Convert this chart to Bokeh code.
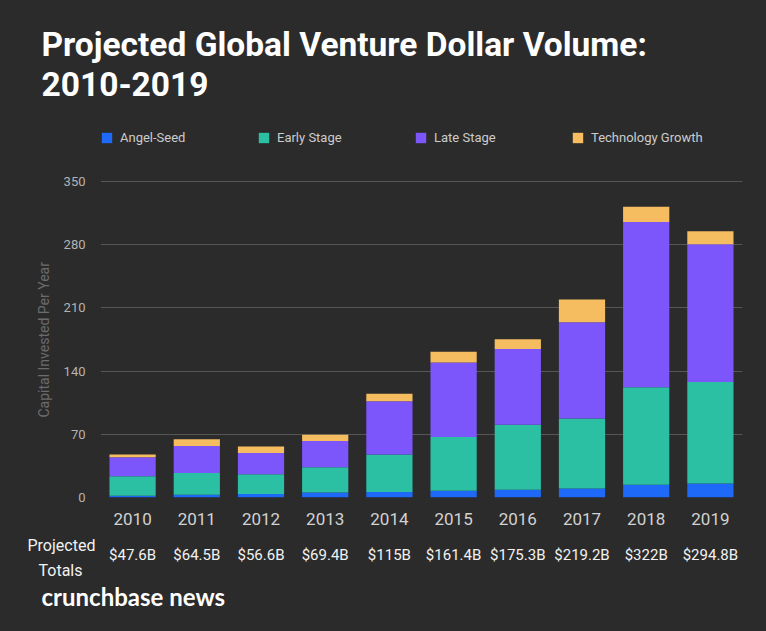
from bokeh.plotting import figure
from bokeh.models import (FixedTicker, Legend, LegendItem, Title, CategoricalAxis,
                          FactorRange, Range1d, ColumnDataSource, GlobalInlineStyleSheet)
from bokeh.embed import file_html
from bokeh.resources import INLINE

# ---- data ----
years = ["2010", "2011", "2012", "2013", "2014", "2015", "2016", "2017", "2018", "2019"]
angel_seed = [2.0, 3.0, 4.0, 5.5, 6.0, 7.5, 8.5, 10.0, 14.0, 15.5]
early_stage = [21.5, 24.0, 21.7, 28.0, 41.5, 59.5, 72.0, 77.5, 108.0, 112.5]
late_stage = [21.0, 30.0, 23.7, 29.2, 59.0, 82.5, 84.0, 106.5, 183.0, 152.5]
tech_growth = [3.1, 7.5, 7.2, 6.7, 8.5, 11.9, 10.8, 25.2, 17.0, 14.3]
totals_labels = ["$47.6B", "$64.5B", "$56.6B", "$69.4B", "$115B",
                 "$161.4B", "$175.3B", "$219.2B", "$322B", "$294.8B"]
series_names = ["Angel-Seed", "Early Stage", "Late Stage", "Technology Growth"]
y_ticks = [0, 70, 140, 210, 280, 350]

colors = ["#1e69f8", "#2bbfa4", "#7d56fb", "#f6bd60"]
BG = "#2b2b2b"
FONT = "Roboto"

src = ColumnDataSource(dict(year=years, angel=angel_seed, early=early_stage,
                            late=late_stage, tech=tech_growth))

# frame spans from just under the title down to the zero line; headroom above 350 holds the legend
p = figure(x_range=FactorRange(*years), y_range=Range1d(0, 433), title=None,
           width=766, height=631, output_backend="svg", toolbar_location=None,
           min_border_left=100, min_border_right=24, min_border_top=106, min_border_bottom=134,
           background_fill_color=BG, border_fill_color=BG, outline_line_color=None)
p.stylesheets = [GlobalInlineStyleSheet(css="body{margin:0;background-color:#2b2b2b;}")]
p.extra_x_ranges = {"tot": FactorRange(*totals_labels)}

rs = p.vbar_stack(["angel", "early", "late", "tech"], x="year", width=0.72,
                  color=colors, line_color=None, source=src)

# grid
p.xgrid.grid_line_color = None
p.ygrid.ticker = FixedTicker(ticks=y_ticks)
p.ygrid.grid_line_color = "#565656"
p.ygrid.grid_line_width = 1

# y axis
p.yaxis.ticker = FixedTicker(ticks=y_ticks)
p.yaxis.axis_line_color = None
p.yaxis.major_tick_line_color = None
p.yaxis.minor_tick_line_color = None
p.yaxis.major_tick_out = 0
p.yaxis.minor_tick_out = 0
p.yaxis.major_label_text_color = "#b3b3b3"
p.yaxis.major_label_text_font = FONT
p.yaxis.major_label_text_font_size = "13px"
p.yaxis.major_label_standoff = 15

# y axis title (left panel, outside the tick labels)
p.add_layout(Title(text="Capital Invested Per Year", align="left", offset=80, standoff=17,
                   vertical_align="bottom", text_font=FONT, text_font_size="14px",
                   text_font_style="normal", text_color="#6c6c6c"), "left")

# x axis (years)
p.xaxis.axis_line_color = None
p.xaxis.major_tick_line_color = None
p.xaxis.major_tick_out = 0
p.xaxis.major_label_text_color = "#d2d2d2"
p.xaxis.major_label_text_font = FONT
p.xaxis.major_label_text_font_size = "17px"
p.xaxis.major_label_standoff = 15

# ---- below panel: "Projected" / "Totals" row label, totals axis, brand ----
p.add_layout(Title(text="Projected", align="left", offset=-73, standoff=12,
                   vertical_align="bottom", text_font=FONT, text_font_size="16px",
                   text_font_style="normal", text_color="#f2f2f2"), "below")
p.add_layout(Title(text="Totals", align="left", offset=-62, standoff=0,
                   vertical_align="top", text_font=FONT, text_font_size="16px",
                   text_font_style="normal", text_color="#f2f2f2"), "below")
tot_axis = CategoricalAxis(x_range_name="tot", axis_line_color=None,
                           major_tick_line_color=None, major_tick_out=0,
                           major_label_text_color="#f2f2f2", major_label_text_font=FONT,
                           major_label_text_font_size="15px", major_label_standoff=-36)
p.add_layout(tot_axis, "below")
p.add_layout(Title(text="crunchbase news", align="left", offset=-59, standoff=0,
                   vertical_align="top", text_font="Lato", text_font_size="24px",
                   text_font_style="bold", text_color="#ffffff"), "below")

# ---- series legend inside the frame's headroom ----
items = [LegendItem(label=n, renderers=[r]) for n, r in zip(series_names, rs)]
legend = Legend(items=items, orientation="horizontal", location=(0, 352),
                border_line_color=None, background_fill_alpha=0,
                label_text_color="#cccccc", label_text_font=FONT, label_text_font_size="13px",
                glyph_width=13, glyph_height=13, label_height=15, label_width=137,
                label_standoff=7, spacing=0, margin=0, padding=0)
p.add_layout(legend)

# ---- above panel: title lines ----
p.add_layout(Title(text="2010-2019", align="left", offset=-59, standoff=17,
                   vertical_align="top", text_font=FONT, text_font_size="33.5px",
                   text_font_style="bold", text_color="#ffffff"), "above")
p.add_layout(Title(text="Projected Global Venture Dollar Volume:", align="left", offset=-59,
                   standoff=0, vertical_align="bottom", text_font=FONT,
                   text_font_size="33.5px", text_font_style="bold", text_color="#ffffff"), "above")

open("out.html", "w").write(file_html(p, INLINE))
